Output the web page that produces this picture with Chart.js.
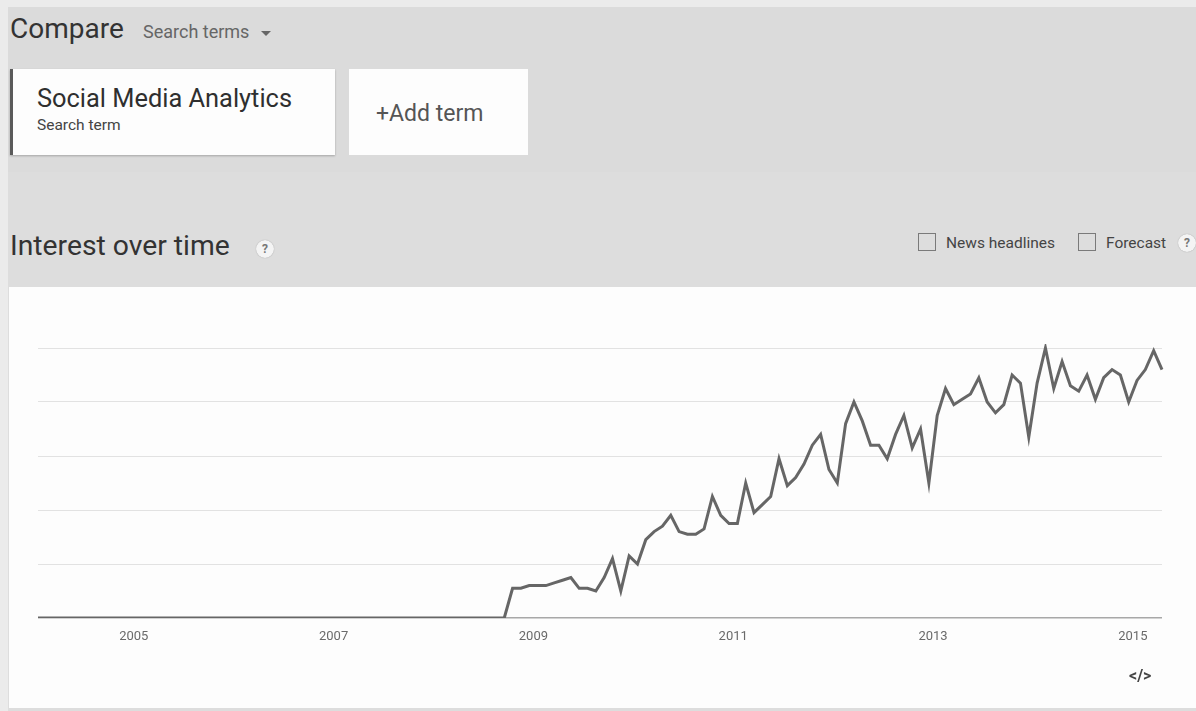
<!DOCTYPE html>
<html>
<head>
<meta charset="utf-8">
<script src="https://cdn.jsdelivr.net/npm/chart.js@4.4.1/dist/chart.umd.min.js"></script>
<style>
  html, body { margin:0; padding:0; }
  body { width:1196px; height:711px; overflow:hidden; position:relative; background:#ebebeb; font-family: Roboto, "Noto Sans", sans-serif; }
  .abs { position:absolute; }
  #bgTop { left:8px; top:7px; width:1188px; height:165px; background:#dbdbdb; }
  #bgLow { left:8px; top:172px; width:1188px; height:539px; background:#dddddd; }
  .t { position:absolute; white-space:nowrap; line-height:1; }
  .card { position:absolute; background:#fdfdfd; box-shadow:0 1px 2px rgba(0,0,0,0.25); }
  .chk { position:absolute; width:16px; height:16px; border:1.5px solid #7a7a7a; background:transparent; }
  .help { position:absolute; width:18px; height:18px; border-radius:50%; background:#f4f4f4; box-shadow:0 0 1px rgba(0,0,0,0.35); color:#777; font-size:12px; font-weight:bold; text-align:center; line-height:18px; }
  #chartCard { left:9px; top:287px; width:1187px; height:421px; background:#fdfdfd; }
  #c { position:absolute; left:0; top:0; }
</style>
</head>
<body>
<div id="bgTop" class="abs"></div>
<div id="bgLow" class="abs"></div>

<div class="t" style="left:10px; top:15px; font-size:28px; color:#333;">Compare</div>
<div class="t" style="left:143px; top:23px; font-size:18px; color:#666;">Search terms</div>
<div class="abs" style="left:261px; top:31px; width:0; height:0; border-left:5px solid transparent; border-right:5px solid transparent; border-top:5px solid #666;"></div>

<div class="card" style="left:10px; top:69px; width:325px; height:86px; border-left:3px solid #5a5a5a; box-sizing:border-box;"></div>
<div class="t" style="left:37px; top:86px; font-size:25.4px; color:#2f2f2f;">Social Media Analytics</div>
<div class="t" style="left:37px; top:118px; font-size:15.5px; color:#444;">Search term</div>

<div class="card" style="left:349px; top:69px; width:179px; height:86px; box-shadow:none;"></div>
<div class="t" style="left:376px; top:102px; font-size:23px; color:#555;">+Add term</div>

<div class="t" style="left:10px; top:232px; font-size:28.3px; color:#333;">Interest over time</div>
<div class="help" style="left:256px; top:240px;">?</div>

<div class="chk" style="left:918px; top:233px;"></div>
<div class="t" style="left:946px; top:236px; font-size:15.5px; color:#444;">News headlines</div>
<div class="chk" style="left:1078px; top:233px;"></div>
<div class="t" style="left:1106px; top:236px; font-size:15.5px; color:#444;">Forecast</div>
<div class="help" style="left:1178px; top:234px;">?</div>

<div id="chartCard" class="abs">
  <canvas id="c" width="1187" height="421"></canvas>
  <div class="t" style="left:1120px; top:381px; font-size:16px; font-weight:bold; color:#444;">&lt;/&gt;</div>
</div>

<script>
// Monthly search interest for "Social Media Analytics" (Google Trends index, 0-100)
const startYear = 2004;
const y2004 = [0,0,0,0,0,0,0,0,0,0,0,0];
const y2005 = [0,0,0,0,0,0,0,0,0,0,0,0];
const y2006 = [0,0,0,0,0,0,0,0,0,0,0,0];
const y2007 = [0,0,0,0,0,0,0,0,0,0,0,0];
const y2008 = [0,0,0,0,0,0,0,0,0,11,11,12];
const y2009 = [12,12,13,14,15,11,11,10,15,22,10,23];
const y2010 = [20,29,32,34,38,32,31,31,33,45,38,35];
const y2011 = [35,50,39,42,45,59,49,52,57,64,68,55];
const y2012 = [50,72,80,73,64,64,59,68,75,63,70,50];
const y2013 = [75,85,79,81,83,89,80,76,79,90,87,67];
const y2014 = [87,100,85,95,86,84,90,81,89,92,90,80];
const y2015 = [88,92,99,92];

// x-axis year labels, placed at the start of each labelled year (month index)
const yearLabels = ['2005','2007','2009','2011','2013','2015'];
const yearTickMonths = [11.5, 35.5, 59.5, 83.5, 107.5, 131.5];
const yGridValues = [0,20,40,60,80,100];

const interest = [].concat(y2004,y2005,y2006,y2007,y2008,y2009,y2010,y2011,y2012,y2013,y2014,y2015);
const points = interest.map((v, i) => ({ x: i, y: v }));

new Chart(document.getElementById('c'), {
  type: 'line',
  data: {
    datasets: [{
      data: points,
      borderColor: '#666666',
      borderWidth: 3,
      pointRadius: 0,
      tension: 0,
      fill: false,
      clip: { left: 4, right: 4, top: 4, bottom: 0 }
    }]
  },
  options: {
    responsive: false,
    animation: false,
    layout: { padding: { left: 29, right: 34, top: 61, bottom: 0 } },
    plugins: { legend: { display: false }, tooltip: { enabled: false } },
    scales: {
      x: {
        type: 'linear',
        min: 0,
        max: interest.length - 1,
        afterBuildTicks: (s) => { s.ticks = yearTickMonths.map(v => ({ value: v })); },
        afterFit: (s) => { s.height = 90; },
        ticks: {
          callback: (v, i) => yearLabels[i],
          color: '#6a6a6a',
          font: { family: 'Roboto', size: 13 },
          padding: 11,
          maxRotation: 0,
          autoSkip: false
        },
        grid: { display: false, drawTicks: false },
        border: { display: false }
      },
      y: {
        min: 0,
        max: 100,
        afterBuildTicks: (s) => { s.ticks = yGridValues.map(v => ({ value: v })); },
        afterFit: (s) => { s.width = 0; },
        ticks: { display: false },
        grid: {
          drawTicks: false,
          color: (ctx) => ctx.tick && ctx.tick.value === 0 ? '#a8a8a8' : '#e2e2e2',
          lineWidth: (ctx) => ctx.tick && ctx.tick.value === 0 ? 1.5 : 1
        },
        border: { display: false }
      }
    }
  }
});
</script>
</body>
</html>
